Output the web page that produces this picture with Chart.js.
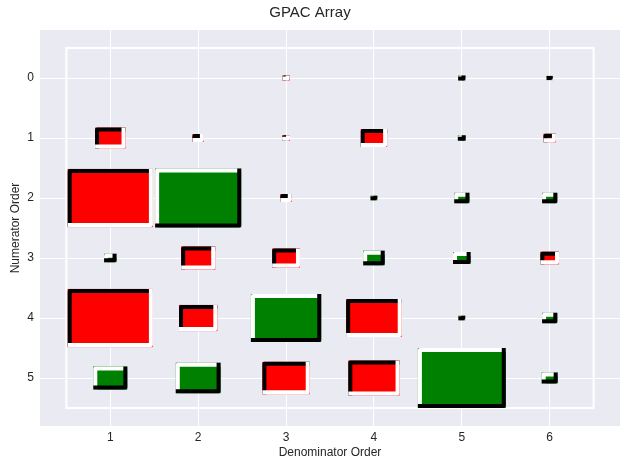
<!DOCTYPE html>
<html>
<head>
<meta charset="utf-8">
<script src="https://cdn.jsdelivr.net/npm/chart.js@4/dist/chart.umd.min.js"></script>
<style>
html, body { margin: 0; padding: 0; background: #fff; }
#wrap { width: 630px; height: 470px; }
</style>
</head>
<body>
<div id="wrap"><canvas id="myChart"></canvas></div>
<script>
// axes
var denominators = [1, 2, 3, 4, 5, 6];
var numerators = [0, 1, 2, 3, 4, 5];

// GPAC values, one row per numerator order (box side ~ sqrt(|value|))
var row0 = [0, 0, -0.007, 0, 0.007, 0.005];
var row1 = [-0.12, -0.017, -0.008, -0.09, 0.008, -0.02];
var row2 = [-0.94, 0.96, -0.017, 0.006, 0.03, 0.03];
var row3 = [0.02, -0.15, -0.10, 0.06, 0.04, -0.045];
var row4 = [-0.94, -0.19, 0.64, -0.40, 0.006, 0.03];
var row5 = [0.15, 0.26, -0.29, -0.34, 1.0, 0.033];
var gpac = [row0, row1, row2, row3, row4, row5];

var maxAbs = 1.0;
var textColor = '#262626';

Chart.defaults.font.family = "'Liberation Sans', Arial, sans-serif";
Chart.defaults.color = textColor;

//build points at the cell centers
var points = [];
for (var i = 0; i < numerators.length; i++) {
	for (var j = 0; j < denominators.length; j++) {
		points.push({ x: denominators[j], y: numerators[i], v: gpac[i][j] });
	}
}

var hinton = {
	id: 'hinton',
	beforeDraw: function (chart) {
		var a = chart.chartArea, ctx = chart.ctx;
		ctx.save();
		ctx.fillStyle = '#EAEAF2';
		ctx.fillRect(a.left, a.top, a.right - a.left, a.bottom - a.top);
		ctx.restore();
	},
	afterDatasetsDraw: function (chart) {
		var ctx = chart.ctx;
		var xs = chart.scales.x, ys = chart.scales.y;
		var cw = Math.abs(xs.getPixelForValue(1) - xs.getPixelForValue(0));
		var ch = Math.abs(ys.getPixelForValue(1) - ys.getPixelForValue(0));

		ctx.save();
		// white frame round the array
		var fx0 = xs.getPixelForValue(denominators[0] - 0.5);
		var fx1 = xs.getPixelForValue(denominators[denominators.length - 1] + 0.5);
		var fy0 = ys.getPixelForValue(numerators[0] - 0.5);
		var fy1 = ys.getPixelForValue(numerators[numerators.length - 1] + 0.5);
		ctx.strokeStyle = '#ffffff';
		ctx.lineWidth = 2;
		ctx.strokeRect(fx0, fy0, fx1 - fx0, fy1 - fy0);

		var lw = 4, h = lw / 2;
		var meta = chart.getDatasetMeta(0);
		meta.data.forEach(function (el, k) {
			var p = points[k];
			if (!p.v) return;
			var s = Math.sqrt(Math.abs(p.v) / maxAbs);
			var w = s * cw, hh = s * ch;
			var cx = xs.getPixelForValue(p.x), cy = ys.getPixelForValue(p.y);
			var x0 = cx - w / 2, x1 = cx + w / 2, y0 = cy - hh / 2, y1 = cy + hh / 2;
			var neg = p.v < 0;

			ctx.fillStyle = neg ? '#ff0000' : '#008000';
			ctx.fillRect(x0, y0, w, hh);

			// top-left edge drawn first, bottom-right edge on top of it
			var tl = [[x0 + h, y1], [x0 + h, y0 + h], [x1, y0 + h]];
			var br = [[x0, y1 - h], [x1 - h, y1 - h], [x1 - h, y0]];

			ctx.lineWidth = lw;
			ctx.lineCap = 'butt';
			ctx.lineJoin = 'round';
			ctx.strokeStyle = neg ? '#000000' : '#ffffff';
			strokePath(ctx, tl);
			ctx.strokeStyle = neg ? '#ffffff' : '#000000';
			strokePath(ctx, br);
		});
		ctx.restore();
	}
};

function strokePath(ctx, pts) {
	ctx.beginPath();
	ctx.moveTo(pts[0][0], pts[0][1]);
	for (var i = 1; i < pts.length; i++) ctx.lineTo(pts[i][0], pts[i][1]);
	ctx.stroke();
}

function setTicks(list) {
	return function (scale) {
		scale.ticks = list.map(function (v) { return { value: v }; });
	};
}

var myChart = new Chart(document.getElementById('myChart'), {
	type: 'scatter',
	data: {
		datasets: [{
			data: points,
			pointRadius: 0,
			pointHoverRadius: 0
		}]
	},
	options: {
		responsive: true,
		maintainAspectRatio: false,
		animation: false,
		layout: { padding: { left: 0, right: 10, top: 0, bottom: 0 } },
		plugins: {
			legend: { display: false },
			tooltip: { enabled: false },
			title: {
				display: true,
				text: 'GPAC Array',
				color: textColor,
				font: { size: 15, weight: 'normal' },
				padding: { top: 4, bottom: 8 }
			}
		},
		scales: {
			x: {
				type: 'linear',
				min: 0.2,
				max: 6.8,
				afterBuildTicks: setTicks(denominators),
				afterFit: function (s) { s.height = 44; },
				grid: { color: '#ffffff', lineWidth: 1, drawTicks: false },
				border: { display: false },
				ticks: { padding: 4, color: textColor, font: { size: 12 } },
				title: {
					display: true,
					text: 'Denominator Order',
					color: textColor,
					font: { size: 12 },
					padding: { top: 0, bottom: 10 }
				}
			},
			y: {
				type: 'linear',
				reverse: true,
				min: -0.8,
				max: 5.8,
				afterBuildTicks: setTicks(numerators),
				afterFit: function (s) { s.width = 40; },
				grid: { color: '#ffffff', lineWidth: 1, drawTicks: false },
				border: { display: false },
				ticks: { padding: 6, color: textColor, font: { size: 12 } },
				title: {
					display: true,
					text: 'Numerator Order',
					color: textColor,
					font: { size: 12 },
					padding: { top: 8, bottom: 0 }
				}
			}
		}
	},
	plugins: [hinton]
});
</script>
</body>
</html>
